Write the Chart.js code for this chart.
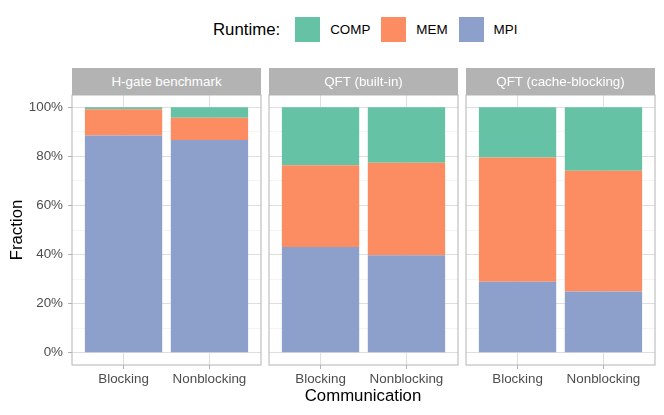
<!DOCTYPE html>
<html>
<head>
<meta charset="utf-8">
<script src="https://cdn.jsdelivr.net/npm/chart.js@4.4.1/dist/chart.umd.min.js"></script>
<style>
  html, body { margin: 0; padding: 0; background: #fff; }
  #wrap { position: relative; width: 664px; height: 415px; overflow: hidden; font-family: 'Liberation Sans', Arial, sans-serif; }
  canvas { position: absolute; }
  .strip { position: absolute; top: 68px; height: 27px; background: #b3b3b3; color: #fff; font-size: 13.4px; line-height: 27px; text-align: center; }
  #legend { position: absolute; left: 213px; top: 17px; height: 25px; display: flex; align-items: center; }
  #legend .title { font-size: 16.8px; margin-right: 15px; color: #000; }
  #legend .key { width: 25px; height: 25px; margin-right: 10px; }
  #legend .lab { font-size: 13.4px; margin-right: 11px; color: #000; }
  #xtitle { position: absolute; left: 263px; width: 200px; top: 386px; text-align: center; font-size: 16.8px; color: #000; }
</style>
</head>
<body>
<div id="wrap">
  <div id="legend"></div>
  <canvas id="p0" width="264" height="300" style="left:0px; top:90px;"></canvas>
  <canvas id="p1" width="196" height="300" style="left:266px; top:90px;"></canvas>
  <canvas id="p2" width="198" height="300" style="left:463px; top:90px;"></canvas>
  <div id="xtitle">Communication</div>
</div>
<script>
/* ===== data ===== */
const categories = ['Blocking', 'Nonblocking'];
const panels = ['H-gate benchmark', 'QFT (built-in)', 'QFT (cache-blocking)'];
// percent of runtime, one pair [Blocking, Nonblocking] per panel
const mpi  = [[88.5, 86.7], [43.1, 39.7], [28.9, 24.9]];
const mem  = [[10.7, 9.0], [33.3, 37.7], [50.6, 49.2]];
const comp = [[0.8, 4.3], [23.6, 22.6], [20.5, 25.9]];
const yMajor = [0, 20, 40, 60, 80, 100];
const yMinor = [10, 30, 50, 70, 90];

const C = { comp: '#66c2a5', mem: '#fc8d62', mpi: '#8da0cb', border: '#b3b3b3', major: '#dedede', minor: '#efefef', tick: '#4d4d4d' };

Chart.defaults.font.family = "'Liberation Sans', Arial, sans-serif";
Chart.defaults.font.size = 13.4;
Chart.defaults.color = C.tick;

/* ---- legend (html) ---- */
const legend = document.getElementById('legend');
legend.innerHTML = '<span class="title">Runtime:</span>' +
  [['COMP', C.comp], ['MEM', C.mem], ['MPI', C.mpi]].map(([n, c]) =>
    '<span class="key" style="background:' + c + '"></span><span class="lab">' + n + '</span>').join('');

/* ---- panel border plugin ---- */
const panelBorder = {
  id: 'panelBorder',
  afterDatasetsDraw(chart) {
    const { ctx, chartArea: a } = chart;
    ctx.save();
    ctx.strokeStyle = C.border;
    ctx.lineWidth = 1;
    ctx.strokeRect(a.left, a.top, a.right - a.left, a.bottom - a.top);
    ctx.restore();
  }
};

const plotLefts = [72, 269, 466];
const canvasLefts = [0, 266, 463];
const canvasWidths = [264, 196, 198];
const PW = 189;

panels.forEach((name, p) => {
  const s = document.createElement('div');
  s.className = 'strip';
  s.style.left = plotLefts[p] + 'px';
  s.style.width = PW + 'px';
  s.textContent = name;
  document.getElementById('wrap').appendChild(s);

  const first = p === 0;
  const padL = first ? 0 : plotLefts[p] - canvasLefts[p];
  const padR = canvasLefts[p] + canvasWidths[p] - (plotLefts[p] + PW);
  const pts = arr => arr.map((v, i) => ({ x: i + 1, y: v }));

  new Chart(document.getElementById('p' + p), {
    type: 'bar',
    data: {
      datasets: [
        { label: 'MPI', data: pts(mpi[p]), backgroundColor: C.mpi },
        { label: 'MEM', data: pts(mem[p]), backgroundColor: C.mem },
        { label: 'COMP', data: pts(comp[p]), backgroundColor: C.comp }
      ]
    },
    options: {
      responsive: false, animation: false,
      grouped: false, categoryPercentage: 1, barPercentage: 0.9,
      layout: { padding: { top: 5, left: padL, right: padR, bottom: 0 } },
      plugins: { legend: { display: false }, tooltip: { enabled: false } },
      scales: {
        x: {
          type: 'linear', min: 0.4, max: 2.6, offset: false,
          afterBuildTicks: sc => { sc.ticks = categories.map((c, i) => ({ value: i + 1 })); },
          afterFit: sc => { sc.height = 25; sc.paddingLeft = 0; sc.paddingRight = 0; },
          ticks: { autoSkip: false, maxRotation: 0, padding: 2, color: C.tick, callback: v => categories[v - 1] },
          grid: { offset: false, color: C.major, tickColor: C.border, tickLength: 4 },
          border: { display: false }
        },
        y: {
          min: -5, max: 105, stacked: true,
          afterBuildTicks: sc => { sc.ticks = yMajor.concat(yMinor).sort((a, b) => a - b).map(v => ({ value: v })); },
          afterFit: sc => { sc.width = first ? 72 : 0; sc.paddingTop = 0; sc.paddingBottom = 0; },
          ticks: { display: first, autoSkip: false, padding: 5, color: C.tick, callback: v => yMajor.includes(v) ? v + '%' : '' },
          grid: {
            drawTicks: first, tickLength: 4,
            color: c => yMajor.includes(c.tick.value) ? C.major : C.minor,
            lineWidth: c => yMajor.includes(c.tick.value) ? 1 : 0.7,
            tickColor: c => yMajor.includes(c.tick.value) ? C.border : 'rgba(0,0,0,0)'
          },
          border: { display: false },
          title: { display: first, text: 'Fraction', color: '#000', font: { size: 16.8 }, padding: { top: 7, bottom: 0 } }
        }
      }
    },
    plugins: [panelBorder]
  });
});
</script>
</body>
</html>
